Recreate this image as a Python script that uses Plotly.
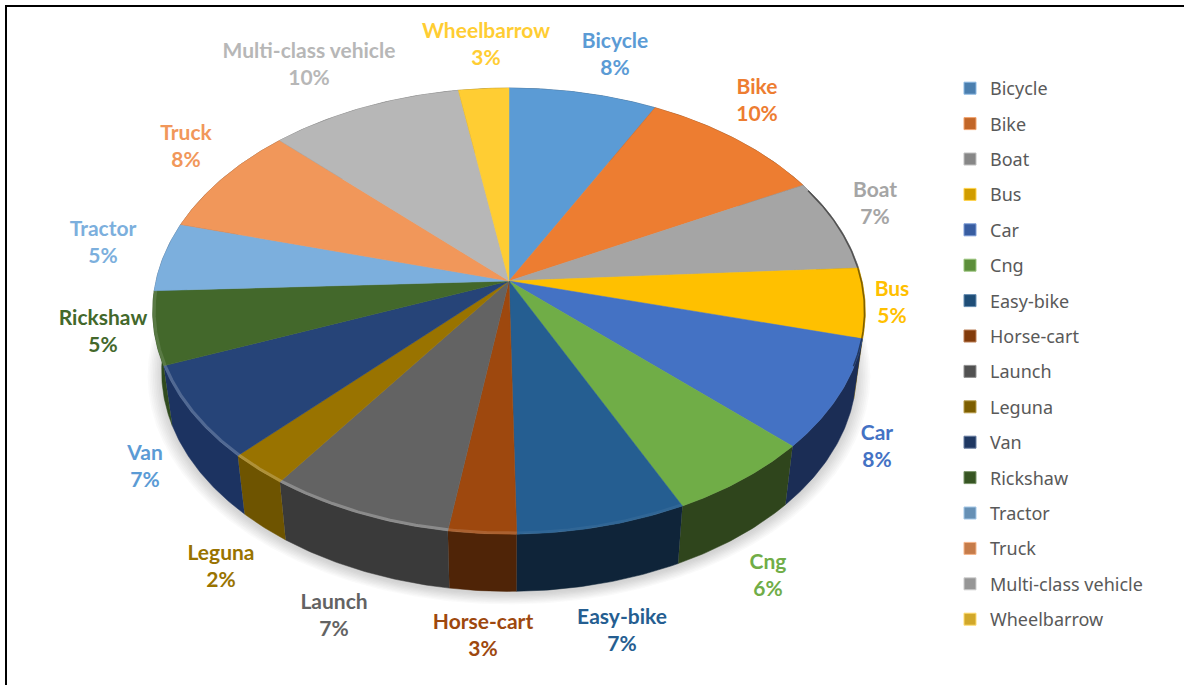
import numpy as np
import plotly.graph_objects as go

# Vehicle classes and their share of the total, in percent
categories = ["Bicycle", "Bike", "Boat", "Bus", "Car", "Cng", "Easy-bike", "Horse-cart",
              "Launch", "Leguna", "Van", "Rickshaw", "Tractor", "Truck",
              "Multi-class vehicle", "Wheelbarrow"]
shares = [7.66, 9.64, 6.75, 5.05, 7.9, 5.9, 6.8, 2.7,
          7.4, 2.4, 6.8, 5.3, 5.0, 8.1, 10.0, 2.6]
top_colors = ["#5B9BD5", "#ED7D31", "#A5A5A5", "#FFC000", "#4472C4", "#70AD47", "#255E91", "#9E480E",
              "#636363", "#997300", "#264478", "#43682B", "#7CAFDD", "#F1975A", "#B7B7B7", "#FFCD33"]
side_colors = ["#28455f", "#6a3816", "#4a4a4a", "#6e5400", "#1b2d55", "#2f451c", "#0f2439", "#4f2407",
               "#3a3a3a", "#6e5400", "#1c3361", "#2f4a1e", "#37506a", "#6c4428", "#525252", "#735c17"]
rim_light = [0, 0, 0, 0, 0, 0, 0.05, 0.14, 0.26, 0.22, 0.2, 0.12, 0, 0, 0, 0]
label_colors = top_colors[:10] + ["#5B9BD5"] + top_colors[11:]
label_x = [615, 757, 875, 892, 877, 768, 622, 483, 334, 221, 145, 103, 103, 186, 309, 486]
label_y = [41, 87, 190, 289, 433, 562, 617, 622, 602, 553, 453, 318, 229, 133, 51, 31]
LABEL_PITCH = 27

# Geometry of the tilted disc, in figure pixels
W, H = 1184, 685
CX, CY = 509, 281
RX, RY = 353, 219
PERSPECTIVE = 0.135
DEPTH = 61
BASE_SCALE_X = 0.975
BASE_SCALE_Y = 0.985


def mix(color, other, t):
    a = [int(color[i:i + 2], 16) for i in (1, 3, 5)]
    b = [int(other[i:i + 2], 16) for i in (1, 3, 5)]
    return "#" + "".join(f"{round(p + (q - p) * t):02x}" for p, q in zip(a, b))


def project(theta, radius=1.0, scale_x=1.0, scale_y=1.0, drop=0.0):
    """Map an angle clockwise from twelve o'clock onto the tilted disc."""
    sx, sy = radius * np.sin(theta), radius * np.cos(theta)
    d = 1 + PERSPECTIVE * sy
    return CX + scale_x * RX * sx / d, CY - scale_y * RY * sy / d + drop


def arc(start, stop, step=0.01):
    n = max(int((stop - start) / step), 2)
    return np.linspace(start, stop, n)


fractions = np.array(shares) / sum(shares)
edges = np.concatenate([[0], np.cumsum(fractions)]) * 2 * np.pi
fig = go.Figure()

# Soft shadow under the base
for grow in np.linspace(1.04, 1.0, 9):
    t = arc(0, 2 * np.pi)
    sx, sy = project(t, scale_x=BASE_SCALE_X * grow, scale_y=BASE_SCALE_Y * grow, drop=DEPTH + 3)
    fig.add_trace(go.Scatter(x=sx, y=sy, mode="lines", fill="toself", line_width=0,
                             fillcolor="rgba(90,90,90,0.03)", hoverinfo="skip", showlegend=False))

# Side walls and base
for i, name in enumerate(categories):
    t = arc(edges[i], edges[i + 1])
    tx, ty = project(t)
    bx, by = project(t, scale_x=BASE_SCALE_X, scale_y=BASE_SCALE_Y, drop=DEPTH)
    fig.add_trace(go.Scatter(x=np.r_[tx, bx[::-1]], y=np.r_[ty, by[::-1]], mode="lines", fill="toself",
                             line=dict(width=0.5, color=side_colors[i]), fillcolor=side_colors[i],
                             legendgroup=name, hoverinfo="skip", showlegend=False))

# Top face slices
for i, name in enumerate(categories):
    t = arc(edges[i], edges[i + 1])
    tx, ty = project(t)
    fig.add_trace(go.Scatter(x=np.r_[CX, tx, CX], y=np.r_[CY, ty, CY], mode="lines", fill="toself",
                             line=dict(width=0.5, color=top_colors[i]), fillcolor=top_colors[i],
                             legendgroup=name, name=name, text=f"{name}: {shares[i]:.0f}%",
                             hoverinfo="text", showlegend=False))

# Bevel along the rim: a soft light edge at the front left, a dark edge on the right
for i, name in enumerate(categories):
    t = arc(edges[i], edges[i + 1], 0.005)
    if rim_light[i] > 0:
        rx, ry = project(t, radius=0.996)
        fig.add_trace(go.Scatter(x=rx, y=ry, mode="lines", legendgroup=name, hoverinfo="skip", showlegend=False,
                                 line=dict(width=3, color=f"rgba(255,255,255,{rim_light[i]})")))
    part = t[(t >= np.radians(64)) & (t <= np.radians(112))]
    if part.size >= 2:
        rx, ry = project(part, radius=0.998)
        fig.add_trace(go.Scatter(x=rx, y=ry, mode="lines", legendgroup=name, hoverinfo="skip", showlegend=False,
                                 line=dict(width=1.5, color="rgba(0,0,0,0.5)")))

# Two-line data labels: class name above its rounded percentage
LABEL_FONT = "Lato"
LABEL_SIZE = 21
fig.add_trace(go.Scatter(x=label_x, y=[y + 2 for y in label_y], mode="text",
                         text=[f"<b>{c}</b>" for c in categories],
                         textposition="middle center", hoverinfo="skip", showlegend=False,
                         textfont=dict(family=LABEL_FONT, size=LABEL_SIZE, color=label_colors)))
fig.add_trace(go.Scatter(x=label_x, y=[y + 2 + LABEL_PITCH for y in label_y], mode="text",
                         text=[f"<b>{s:.0f}%</b>" for s in shares],
                         textposition="middle center", hoverinfo="skip", showlegend=False,
                         textfont=dict(family=LABEL_FONT, size=LABEL_SIZE, color=label_colors)))

# Legend entries, one group per class so a click toggles the whole slice
for i, name in enumerate(categories):
    fig.add_trace(go.Scatter(x=[None], y=[None], mode="markers", name=name, legendgroup=name,
                             marker=dict(symbol="square", size=12, color=mix(top_colors[i], "#000000", 0.18),
                                         line=dict(width=1, color=mix(top_colors[i], "#ffffff", 0.3)))))

fig.update_layout(
    width=W, height=H, autosize=False,
    margin=dict(l=0, r=0, t=0, b=0),
    paper_bgcolor="white", plot_bgcolor="white",
    xaxis=dict(range=[0, W], visible=False, domain=[0, 1], fixedrange=True),
    yaxis=dict(range=[H, 0], visible=False, domain=[0, 1], fixedrange=True),
    legend=dict(x=950 / W, xanchor="left", y=1 - 70 / H, yanchor="top", tracegroupgap=9.0,
                bgcolor="rgba(0,0,0,0)", font=dict(family="Noto Sans", size=18, color="#595959")),
    shapes=[dict(type="line", xref="x", yref="y", x0=6, x1=W, y0=6, y1=6, line=dict(color="black", width=2)),
            dict(type="line", xref="x", yref="y", x0=6, x1=6, y0=5, y1=H, line=dict(color="black", width=2))],
)
fig.write_html("out.html")
